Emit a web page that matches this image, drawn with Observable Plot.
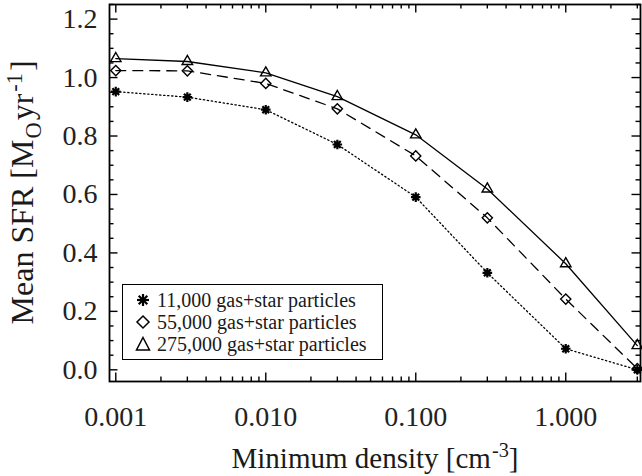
<!DOCTYPE html>
<html>
<head>
<meta charset="utf-8">
<script src="https://cdn.jsdelivr.net/npm/d3@7"></script>
<script src="https://cdn.jsdelivr.net/npm/@observablehq/plot@0.6"></script>
<style>
  html, body { margin: 0; padding: 0; background: #fff; }
  #wrap { position: relative; width: 642px; height: 476px; }
</style>
</head>
<body>
<div id="wrap"></div>
<script>
// Data
const density = [0.001, 0.003, 0.01, 0.03, 0.1, 0.3, 1, 3];
const seriesNames = ["11,000 gas+star particles", "55,000 gas+star particles", "275,000 gas+star particles"];
const sfr11k  = [0.952, 0.933, 0.890, 0.771, 0.591, 0.332, 0.072, 0.000];
const sfr55k  = [1.024, 1.023, 0.980, 0.893, 0.732, 0.520, 0.242, 0.004];
const sfr275k = [1.065, 1.055, 1.016, 0.935, 0.804, 0.619, 0.363, 0.083];
const xMajor = [0.001, 0.01, 0.1, 1];
const yMajor = [0.0, 0.2, 0.4, 0.6, 0.8, 1.0, 1.2];

// 8-spoke asterisk like IDL psym=2
const asterisk8 = {
  draw(ctx, size) {
    const r = Math.sqrt(size / Math.PI);
    for (let k = 0; k < 4; k++) {
      const a = k * Math.PI / 4;
      ctx.moveTo(-r * Math.cos(a), -r * Math.sin(a));
      ctx.lineTo(r * Math.cos(a), r * Math.sin(a));
    }
  }
};
const styles = [
  {symbol: asterisk8, dash: "1.3,2.7", sw: 2.2, r: 4.8},
  {symbol: "diamond2", dash: "10,7", sw: 1.4, r: 4.6},
  {symbol: "triangle2", dash: null, sw: 1.4, r: 5}
];
const allSeries = [sfr11k, sfr55k, sfr275k];
const table = allSeries.flatMap((vals, i) => vals.map((v, j) => ({x: density[j], y: v, s: i})));

const W = 642, H = 476, mL = 109, mR = 2, mT = 4, mB = 95;
const fw = W - mL - mR, fh = H - mT - mB;

const xMinor = [];
for (let e = -3; e <= 0; e++) for (let k = 2; k <= 9; k++) { const v = k * Math.pow(10, e); if (v <= 3.14) xMinor.push(+v.toPrecision(3)); }
const yMinor = d3.range(0, 26).map(i => +(i * 0.05).toFixed(2)).filter(v => v <= 1.25 && !yMajor.includes(v));

const tk = {stroke: "#000", strokeWidth: 1.4};
const marks = [
  Plot.tickX(xMinor, {x: d => d, insetTop: fh - 4.5, ...tk}),
  Plot.tickX(xMinor, {x: d => d, insetBottom: fh - 4.5, ...tk}),
  Plot.tickX(xMajor, {x: d => d, insetTop: fh - 8.5, ...tk}),
  Plot.tickX(xMajor, {x: d => d, insetBottom: fh - 8.5, ...tk}),
  Plot.tickY(yMinor, {y: d => d, insetRight: fw - 4.5, ...tk}),
  Plot.tickY(yMinor, {y: d => d, insetLeft: fw - 4.5, ...tk}),
  Plot.tickY(yMajor, {y: d => d, insetRight: fw - 8.5, ...tk}),
  Plot.tickY(yMajor, {y: d => d, insetLeft: fw - 8.5, ...tk}),
  Plot.frame({stroke: "#000", strokeWidth: 1.8})
];
styles.forEach((st, i) => {
  const d = table.filter(r => r.s === i);
  marks.push(Plot.line(d, {x: "x", y: "y", stroke: "#000", strokeWidth: 1.3, strokeDasharray: st.dash}));
  marks.push(Plot.dot(d, {x: "x", y: "y", symbol: st.symbol, r: st.r, stroke: "#000", strokeWidth: st.sw, fill: "none"}));
});

const chart = Plot.plot({
  width: W, height: H,
  marginLeft: mL, marginRight: mR, marginTop: mT, marginBottom: mB,
  style: "font-family: 'Liberation Serif'; font-size: 28px; color: #222; background: #fff;",
  x: {type: "log", domain: [0.000908, 3.15], ticks: xMajor, tickFormat: d3.format(".3f"), tickSize: 0, tickPadding: 25, label: null},
  y: {domain: [-0.04, 1.25], ticks: yMajor, tickFormat: d3.format(".1f"), tickSize: 0, tickPadding: 12, label: null},
  marks
});

const wrap = document.getElementById("wrap");
wrap.appendChild(chart);

function fitSize(el, target, base) {
  const w = el.getBoundingClientRect().width;
  el.style.fontSize = (base * target / w).toFixed(2) + "px";
}

// y title
const yt = document.createElement("div");
yt.style.cssText = "font-family:'Liberation Serif';font-size:32px;position:absolute;white-space:nowrap;color:#1a1a1a;line-height:1.15;";
yt.innerHTML = 'Mean SFR [M<sub style="font-family:\'Liberation Serif\';font-size:70%;margin:0 2px 0 1px;">O</sub>yr<sup style="font-family:\'Liberation Serif\';font-size:70%;margin:0 2px 0 2px;">-1</sup>]';
wrap.appendChild(yt);
{
  const r = yt.getBoundingClientRect();
  yt.style.left = (24 - r.width / 2) + "px";
  yt.style.top = (192.5 - r.height / 2) + "px";
  yt.style.transform = "rotate(-90deg)";
  yt.style.transformOrigin = "50% 50%";
}

// x title
const xt = document.createElement("div");
xt.style.cssText = "font-family:'Liberation Serif';font-size:29px;position:absolute;white-space:nowrap;color:#1a1a1a;line-height:1.15;";
xt.innerHTML = 'Minimum density [cm<sup style="font-family:\'Liberation Serif\';font-size:70%;margin-left:1px;">-3</sup>]';
wrap.appendChild(xt);
{
  const r = xt.getBoundingClientRect();
  xt.style.left = (375 - r.width / 2) + "px";
  xt.style.top = (457 - r.height / 2) + "px";
}

// legend
const lg = document.createElement("div");
lg.style.cssText = "position:absolute;left:122px;top:284px;width:261px;height:76px;border:1.6px solid #000;box-sizing:border-box;background:#fff;";
wrap.appendChild(lg);
const symSvg = [
  '<svg width="16" height="16" viewBox="-8 -8 16 16"><g stroke="#000" stroke-width="2.2"><line x1="-6" y1="0" x2="6" y2="0"/><line x1="0" y1="-6" x2="0" y2="6"/><line x1="-4.3" y1="-4.3" x2="4.3" y2="4.3"/><line x1="-4.3" y1="4.3" x2="4.3" y2="-4.3"/></g></svg>',
  '<svg width="16" height="16" viewBox="-8 -8 16 16"><path d="M0,-6L6,0L0,6L-6,0Z" fill="none" stroke="#000" stroke-width="1.5"/></svg>',
  '<svg width="16" height="16" viewBox="-8 -8 16 16"><path d="M0,-6.5L6.5,6L-6.5,6Z" fill="none" stroke="#000" stroke-width="1.5"/></svg>'
];
const rowY = [300, 322, 344];
seriesNames.forEach((name, i) => {
  const s = document.createElement("div");
  s.style.cssText = "position:absolute;left:135px;top:" + (rowY[i] - 8) + "px;width:16px;height:16px;line-height:0;";
  s.innerHTML = symSvg[i];
  wrap.appendChild(s);
  const t = document.createElement("div");
  t.style.cssText = "font-family:'Liberation Serif';font-size:20px;position:absolute;left:157px;white-space:nowrap;color:#1a1a1a;line-height:22px;";
  t.textContent = name;
  wrap.appendChild(t);
  t.style.top = (rowY[i] - 11) + "px";
});
</script>
</body>
</html>
